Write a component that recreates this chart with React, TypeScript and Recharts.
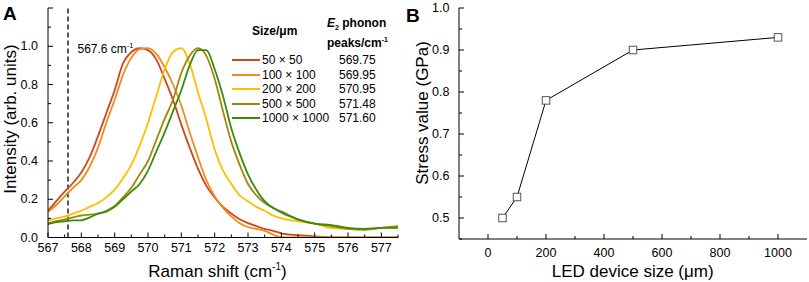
import React from 'react';
import { LineChart, Line, XAxis, YAxis, ReferenceLine, Legend, Label } from 'recharts';

const FONT = '"Liberation Sans", Arial, Helvetica, sans-serif';

// ---- Panel A: Raman spectra ----
const ramanShift = [
    567, 567.25, 567.5, 567.75, 568, 568.25, 568.5, 568.75, 569, 569.25, 569.5, 569.75,
    570, 570.25, 570.5, 570.75, 571, 571.25, 571.5, 571.75, 572, 572.25, 572.5, 572.75,
    573, 573.25, 573.5, 573.75, 574, 574.5, 575, 575.5, 576, 576.5, 577, 577.5,
];
const int50 = [
    0.14, 0.19, 0.24, 0.285, 0.34, 0.42, 0.53, 0.65, 0.77, 0.91, 0.97, 0.99,
    0.98, 0.93, 0.83, 0.72, 0.59, 0.47, 0.36, 0.27, 0.21, 0.16, 0.125, 0.095,
    0.075, 0.06, 0.045, 0.035, 0.022, 0.012, 0.006, 0.002, 0, 0, 0, 0.002,
];
const int100 = [
    0.135, 0.17, 0.215, 0.26, 0.3, 0.37, 0.47, 0.6, 0.72, 0.85, 0.94, 0.985,
    0.99, 0.96, 0.89, 0.8, 0.69, 0.55, 0.42, 0.3, 0.215, 0.155, 0.11, 0.075,
    0.055, 0.045, 0.035, 0.015, 0, 0, 0, 0, 0, 0, 0, 0,
];
const int200 = [
    0.09, 0.1, 0.11, 0.125, 0.14, 0.16, 0.18, 0.21, 0.25, 0.31, 0.38, 0.48,
    0.6, 0.74, 0.88, 0.97, 0.99, 0.91, 0.76, 0.62, 0.46, 0.35, 0.28, 0.22,
    0.19, 0.16, 0.14, 0.115, 0.1, 0.085, 0.073, 0.05, 0.045, 0.045, 0.05, 0.055,
];
const int500 = [
    0.075, 0.085, 0.095, 0.105, 0.115, 0.12, 0.125, 0.14, 0.165, 0.21, 0.26, 0.33,
    0.4, 0.51, 0.62, 0.72, 0.86, 0.95, 0.99, 0.95, 0.83, 0.66, 0.5, 0.38,
    0.28, 0.22, 0.18, 0.155, 0.13, 0.095, 0.072, 0.06, 0.045, 0.04, 0.05, 0.06,
];
const int1000 = [
    0.07, 0.08, 0.085, 0.09, 0.09, 0.105, 0.125, 0.135, 0.16, 0.2, 0.24, 0.28,
    0.35, 0.45, 0.55, 0.66, 0.77, 0.9, 0.98, 0.98, 0.88, 0.74, 0.57, 0.44,
    0.33, 0.25, 0.19, 0.155, 0.135, 0.095, 0.072, 0.065, 0.05, 0.045, 0.05, 0.05,
];

const sizeLabels = ['50 × 50', '100 × 100', '200 × 200', '500 × 500', '1000 × 1000'];
const peakPositions = ['569.75', '569.95', '570.95', '571.48', '571.60'];
const seriesKeys = ['s50', 's100', 's200', 's500', 's1000'];
const seriesColors = ['#D2461A', '#EE8C1C', '#FFBE00', '#9E8A04', '#3A8A10'];
const seriesValues = [int50, int100, int200, int500, int1000];

const ramanTicks = [567, 567.5, 568, 568.5, 569, 569.5, 570, 570.5, 571, 571.5, 572, 572.5,
    573, 573.5, 574, 574.5, 575, 575.5, 576, 576.5, 577, 577.5];
const intensityTicks = [0, 0.1, 0.2, 0.3, 0.4, 0.5, 0.6, 0.7, 0.8, 0.9, 1.0, 1.1, 1.2];

// ---- Panel B: stress vs size ----
const deviceSize = [50, 100, 200, 500, 1000];
const stressValue = [0.5, 0.55, 0.78, 0.9, 0.93];
const sizeTicks = [0, 100, 200, 300, 400, 500, 600, 700, 800, 900, 1000];
const stressTicks = [0.45, 0.5, 0.55, 0.6, 0.65, 0.7, 0.75, 0.8, 0.85, 0.9, 0.95, 1.0];

const spectra = ramanShift.map((x, i) => {
    const row: any = { x };
    seriesKeys.forEach((k, j) => { row[k] = seriesValues[j][i]; });
    return row;
});
const stressData = deviceSize.map((size, i) => ({ size, stress: stressValue[i] }));

function AxisTick(props: any) {
    const { x, y, payload, side, isMajor, format, gap, fontSize } = props;
    const v = payload.value;
    const big = isMajor(v);
    const len = big ? 5 : 3;
    let tick = null;
    let text = null;
    if (side === 'bottom') {
        tick = <line x1={x} y1={y} x2={x} y2={y - len} stroke="#000" />;
        if (big && format) text = <text x={x} y={y + gap} textAnchor="middle" dominantBaseline="central">{format(v)}</text>;
    } else if (side === 'top') {
        tick = <line x1={x} y1={y} x2={x} y2={y + len} stroke="#000" />;
    } else if (side === 'left') {
        tick = <line x1={x} y1={y} x2={x + len} y2={y} stroke="#000" />;
        if (big && format) text = <text x={x - gap} y={y} textAnchor="end" dominantBaseline="central">{format(v)}</text>;
    } else {
        tick = <line x1={x} y1={y} x2={x - len} y2={y} stroke="#000" />;
    }
    return (
        <g fontFamily={FONT} fontSize={fontSize || 12.5} fill="#000">
            {tick}
            {text}
        </g>
    );
}

const isInt = (v: number) => Math.abs(v - Math.round(v)) < 1e-6;
const isEvenTenth = (v: number) => Math.abs(v * 5 - Math.round(v * 5)) < 1e-6;
const isTenth = (v: number) => Math.abs(v * 10 - Math.round(v * 10)) < 1e-6;
const isTwoHundred = (v: number) => v % 200 === 0;
const showIntensity = (v: number) => (v <= 1.0001 ? v.toFixed(1) : null);

const renderLegend = (props: any) => {
    const items = [...(props.payload || [])].sort(
        (a: any, b: any) => sizeLabels.indexOf(a.value) - sizeLabels.indexOf(b.value)
    );
    return (
        <div style={{ position: 'relative', width: 172, height: 130, fontFamily: FONT, color: '#000', fontSize: 12, lineHeight: '14px' }}>
            <div style={{ position: 'absolute', left: 24, top: 24, fontWeight: 700 }}>Size/μm</div>
            <div style={{ position: 'absolute', left: 99, top: 16, fontWeight: 700, whiteSpace: 'nowrap' }}>
                <i>E</i><span style={{ fontSize: 7, position: 'relative', top: 3 }}>2</span> phonon
            </div>
            <div style={{ position: 'absolute', left: 99, top: 36, fontWeight: 700, whiteSpace: 'nowrap' }}>
                peaks/cm<span style={{ fontSize: 7, position: 'relative', top: -5 }}>-1</span>
            </div>
            {items.map((entry: any, i: number) => (
                <div key={entry.value} style={{ position: 'absolute', left: 0, top: 53 + i * 14.6, width: 172, height: 14 }}>
                    <span style={{ position: 'absolute', left: 4, top: 6, width: 28, height: 2, background: entry.color }} />
                    <span style={{ position: 'absolute', left: 34, top: 0, whiteSpace: 'nowrap' }}>{entry.value}</span>
                    <span style={{ position: 'absolute', left: 111, top: 0 }}>
                        {peakPositions[sizeLabels.indexOf(entry.value)]}
                    </span>
                </div>
            ))}
        </div>
    );
};

const SquareDot = (props: any) => {
    const { cx, cy, index } = props;
    if (cx == null || cy == null) return null;
    return <rect key={`sq-${index}`} x={cx - 3.75} y={cy - 3.75} width={7.5} height={7.5} fill="#fff" stroke="#555" strokeWidth={1} />;
};

function RamanPanel() {
    return (
        <LineChart width={400} height={282} data={spectra} margin={{ top: 8, right: 2, bottom: 0, left: 0 }}>
            <XAxis xAxisId="bottom" dataKey="x" type="number" domain={[567, 577.5]} allowDataOverflow
                ticks={ramanTicks} interval={0} height={44.5} tickLine={false} tickSize={0} tickMargin={0}
                axisLine={{ stroke: '#000' }}
                tick={<AxisTick side="bottom" isMajor={isInt} format={(v: number) => String(v)} gap={10} />}>
                <Label content={() => (
                    <text x={217.5} y={277} textAnchor="middle" fontFamily={FONT} fontSize={17} fill="#000">
                        Raman shift (cm<tspan dy={-7} fontSize={10}>-1</tspan><tspan dy={7}>)</tspan>
                    </text>
                )} />
            </XAxis>
            <XAxis xAxisId="top" orientation="top" dataKey="x" type="number" domain={[567, 577.5]} allowDataOverflow
                ticks={ramanTicks} interval={0} height={0} tickLine={false} tickSize={0} tickMargin={0}
                axisLine={{ stroke: '#000' }} tick={<AxisTick side="top" isMajor={isInt} />} />
            <YAxis yAxisId="left" type="number" domain={[0, 1.2]} allowDataOverflow ticks={intensityTicks}
                interval={0} width={48} tickLine={false} tickSize={0} tickMargin={0} axisLine={{ stroke: '#000' }}
                tick={<AxisTick side="left" isMajor={isEvenTenth} format={showIntensity} gap={10} />}>
                <Label content={() => (
                    <text x={10} y={119} transform="rotate(-90 10 119)" textAnchor="middle" dominantBaseline="central"
                        fontFamily={FONT} fontSize={17} fill="#000">Intensity (arb. units)</text>
                )} />
            </YAxis>
            <YAxis yAxisId="right" orientation="right" type="number" domain={[0, 1.2]} allowDataOverflow
                ticks={intensityTicks} interval={0} width={0} tickLine={false} tickSize={0} tickMargin={0}
                axisLine={{ stroke: '#000' }} tick={<AxisTick side="right" isMajor={isEvenTenth} />} />
            <ReferenceLine xAxisId="bottom" yAxisId="left" x={567.6} stroke="#000" strokeWidth={1.3} strokeDasharray="5 3"
                label={(p: any) => (
                    <text x={(p.viewBox?.x ?? 68) + 9.5} y={53} fontFamily={FONT} fontSize={12} fill="#000">
                        567.6 cm<tspan dy={-5} fontSize={7.5}>-1</tspan>
                    </text>
                )} />
            {seriesKeys.map((k, j) => (
                <Line key={k} xAxisId="bottom" yAxisId="left" type="monotone" dataKey={k} name={sizeLabels[j]}
                    stroke={seriesColors[j]} strokeWidth={1.8} dot={false} activeDot={false} isAnimationActive={false} />
            ))}
            <Legend layout="horizontal" verticalAlign="middle" align="center" itemSorter={null as any}
                content={renderLegend} wrapperStyle={{ left: 228, top: 0, width: 172, height: 130 }} />
        </LineChart>
    );
}

function StressPanel() {
    return (
        <LineChart width={409} height={282} data={stressData} margin={{ top: 8, right: 2, bottom: 0, left: 0 }}>
            <XAxis xAxisId="bottom" dataKey="size" type="number" domain={[-100, 1100]} allowDataOverflow
                ticks={sizeTicks} interval={0} height={43} tickLine={false} tickSize={0} tickMargin={0}
                axisLine={{ stroke: '#000' }}
                tick={<AxisTick side="bottom" isMajor={isTwoHundred} format={(v: number) => String(v)} gap={14} />}>
                <Label content={() => (
                    <text x={232.7} y={277} textAnchor="middle" fontFamily={FONT} fontSize={17} fill="#000">
                        LED device size (μm)
                    </text>
                )} />
            </XAxis>
            <XAxis xAxisId="top" orientation="top" dataKey="size" type="number" domain={[-100, 1100]} allowDataOverflow
                ticks={sizeTicks} interval={0} height={0} tickLine={false} tickSize={0} tickMargin={0}
                axisLine={{ stroke: '#000' }} tick={<AxisTick side="top" isMajor={isTwoHundred} />} />
            <YAxis yAxisId="left" type="number" domain={[0.45, 1.0]} allowDataOverflow ticks={stressTicks}
                interval={0} width={59} tickLine={false} tickSize={0} tickMargin={0} axisLine={{ stroke: '#000' }}
                tick={<AxisTick side="left" isMajor={isTenth} format={(v: number) => v.toFixed(1)} gap={9.5} />}>
                <Label content={() => (
                    <text x={22} y={113} transform="rotate(-90 22 113)" textAnchor="middle" dominantBaseline="central"
                        fontFamily={FONT} fontSize={17} fill="#000">Stress value (GPa)</text>
                )} />
            </YAxis>
            <YAxis yAxisId="right" orientation="right" type="number" domain={[0.45, 1.0]} allowDataOverflow
                ticks={stressTicks} interval={0} width={0} tickLine={false} tickSize={0} tickMargin={0}
                axisLine={{ stroke: '#000' }} tick={<AxisTick side="right" isMajor={isTenth} />} />
            <Line xAxisId="bottom" yAxisId="left" type="linear" dataKey="stress" stroke="#000" strokeWidth={1}
                dot={SquareDot} activeDot={false} isAnimationActive={false} />
        </LineChart>
    );
}

export default function App() {
    return (
        <div style={{ position: 'absolute', left: 0, top: 0, width: 809, height: 282, background: '#fff', fontFamily: FONT }}>
            <div style={{ position: 'absolute', left: 0, top: 0 }}>
                <RamanPanel />
            </div>
            <div style={{ position: 'absolute', left: 400, top: 0 }}>
                <StressPanel />
            </div>
            <div style={{ position: 'absolute', left: 3, top: 4, fontSize: 19, fontWeight: 700, lineHeight: '19px' }}>A</div>
            <div style={{ position: 'absolute', left: 406, top: 6, fontSize: 19, fontWeight: 700, lineHeight: '19px' }}>B</div>
        </div>
    );
}
